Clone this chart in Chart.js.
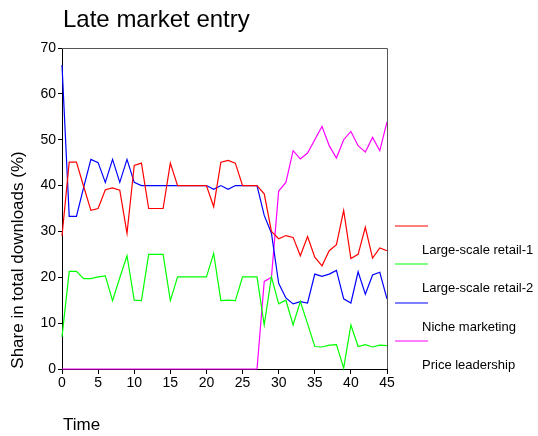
<!DOCTYPE html>
<html>
<head>
<meta charset="utf-8">
<script src="https://cdn.jsdelivr.net/npm/chart.js@4"></script>
<style>
  body { margin: 0; background: #fff; }
  canvas { display: block; }
</style>
</head>
<body>
<canvas id="chart" width="538" height="436"></canvas>
<script>
const time = [0, 1, 2, 3, 4, 5, 6, 7, 8, 9, 10, 11, 12, 13, 14, 15, 16, 17, 18, 19, 20, 21, 22,
    23, 24, 25, 26, 27, 28, 29, 30, 31, 32, 33, 34, 35, 36, 37, 38, 39, 40, 41, 42, 43, 44, 45];

const retail1 = [29, 45.1, 45.1, 39.8, 34.6, 35, 39.1, 39.5, 39, 29.6, 44.4, 44.9, 35, 35, 35, 44.9,
    40, 40, 40, 40, 40, 35.4, 45.1, 45.5, 44.9, 40, 40, 40, 38.2, 30, 28.4, 29.1, 28.7, 24.7, 28.9,
    24.4, 22.5, 25.8, 27.1, 34.6, 24.1, 25, 30.9, 24.2, 26.4, 25.8];
const retail2 = [7, 21.3, 21.3, 19.7, 19.7, 20.1, 20.3, 14.9, 19.9, 24.7, 15, 14.9, 25, 25, 25, 14.9,
    20.1, 20.1, 20.1, 20.1, 20.1, 25.2, 14.9, 15, 14.9, 20.1, 20.1, 20.1, 9.6, 20.1, 14.2, 15, 9.6,
    14.7, 9.9, 4.9, 4.8, 5.2, 5.3, 0.2, 9.6, 4.9, 5.3, 4.8, 5.2, 5.1];
const niche = [66.3, 33.3, 33.3, 39.6, 45.7, 45, 40.7, 45.7, 40.7, 45.7, 40.7, 40, 40, 40, 40, 40,
    40, 40, 40, 40, 40, 39.2, 40, 39.2, 40, 40, 40, 40, 33.5, 29.6, 18.7, 15.5, 14.2, 14.7, 14.4,
    20.7, 20.2, 20.7, 21.5, 15.3, 14.4, 21.2, 16.3, 20.5, 21.1, 15.3];
const price = [0, 0, 0, 0, 0, 0, 0, 0, 0, 0, 0, 0, 0, 0, 0, 0, 0, 0, 0, 0, 0, 0, 0, 0, 0, 0, 0, 0,
    19.1, 20, 38.8, 40.7, 47.6, 45.8, 47.1, 50, 52.9, 48.7, 46, 50, 51.8, 48.7, 47.3, 50.5, 47.6, 53.9];

const seriesNames = ['Large-scale retail-1', 'Large-scale retail-2', 'Niche marketing', 'Price leadership'];
const seriesColors = ['#ff0000', '#00ff00', '#0000ff', '#ff00ff'];
const seriesValues = [retail1, retail2, niche, price];

const xTicks = [0, 5, 10, 15, 20, 25, 30, 35, 40, 45];
const yTicks = [0, 10, 20, 30, 40, 50, 60, 70];

const FONT = 'Liberation Sans, Arial, Helvetica, sans-serif';

// titles, plot frame and the (offset) legend
const decorations = {
    id: 'decorations',
    afterDraw(chart) {
        const ctx = chart.ctx;
        const area = chart.chartArea;
        ctx.save();

        ctx.strokeStyle = '#555555';
        ctx.lineWidth = 1;
        ctx.beginPath();
        ctx.moveTo(area.left, area.top + 0.5);
        ctx.lineTo(area.right + 0.5, area.top + 0.5);
        ctx.lineTo(area.right + 0.5, area.bottom);
        ctx.stroke();

        ctx.fillStyle = '#000';
        ctx.textBaseline = 'middle';
        ctx.textAlign = 'left';
        ctx.font = '24px ' + FONT;
        ctx.fillText('Late market entry', 63, 20);

        ctx.font = '17px ' + FONT;
        ctx.fillText('Time', 63, 425);

        ctx.save();
        ctx.translate(18, 260);
        ctx.rotate(-Math.PI / 2);
        ctx.textAlign = 'center';
        ctx.fillText('Share in total downloads (%)', 0, 0);
        ctx.restore();

        ctx.font = '13px ' + FONT;
        ctx.lineWidth = 1.2;
        const lineY = [226, 264, 303, 341];
        for (let i = 0; i < seriesNames.length; i++) {
            ctx.strokeStyle = seriesColors[i];
            ctx.beginPath();
            ctx.moveTo(395, lineY[i]);
            ctx.lineTo(428, lineY[i]);
            ctx.stroke();
            ctx.fillText(seriesNames[i], 422, lineY[i] + 24);
        }
        ctx.restore();
    }
};

const datasets = seriesNames.map(function(name, i) {
    return {
        label: name,
        data: time.map(function(t, j) { return { x: t, y: seriesValues[i][j] }; }),
        borderColor: seriesColors[i],
        backgroundColor: seriesColors[i],
        borderWidth: 1.2,
        pointRadius: 0,
        tension: 0,
        clip: 4
    };
});

new Chart(document.getElementById('chart').getContext('2d'), {
    type: 'line',
    data: { datasets: datasets },
    plugins: [decorations],
    options: {
        responsive: false,
        animation: false,
        layout: { padding: { top: 48, right: 151, left: 0, bottom: 0 } },
        plugins: {
            legend: { display: false },
            tooltip: { enabled: false }
        },
        scales: {
            x: {
                type: 'linear',
                min: 0,
                max: 45,
                afterFit: function(scale) { scale.height = 67; },
                afterBuildTicks: function(scale) { scale.ticks = xTicks.map(function(v) { return { value: v }; }); },
                ticks: { color: '#000', font: { family: FONT, size: 14 }, padding: 1, maxRotation: 0 },
                grid: { drawOnChartArea: false, tickLength: 5, color: '#000' },
                border: { color: '#000', width: 1 }
            },
            y: {
                min: 0,
                max: 70,
                afterFit: function(scale) { scale.width = 62; },
                afterBuildTicks: function(scale) { scale.ticks = yTicks.map(function(v) { return { value: v }; }); },
                ticks: { color: '#000', font: { family: FONT, size: 14 }, padding: 2 },
                grid: { drawOnChartArea: false, tickLength: 4, color: '#000' },
                border: { color: '#000', width: 1 }
            }
        }
    }
});
</script>
</body>
</html>
